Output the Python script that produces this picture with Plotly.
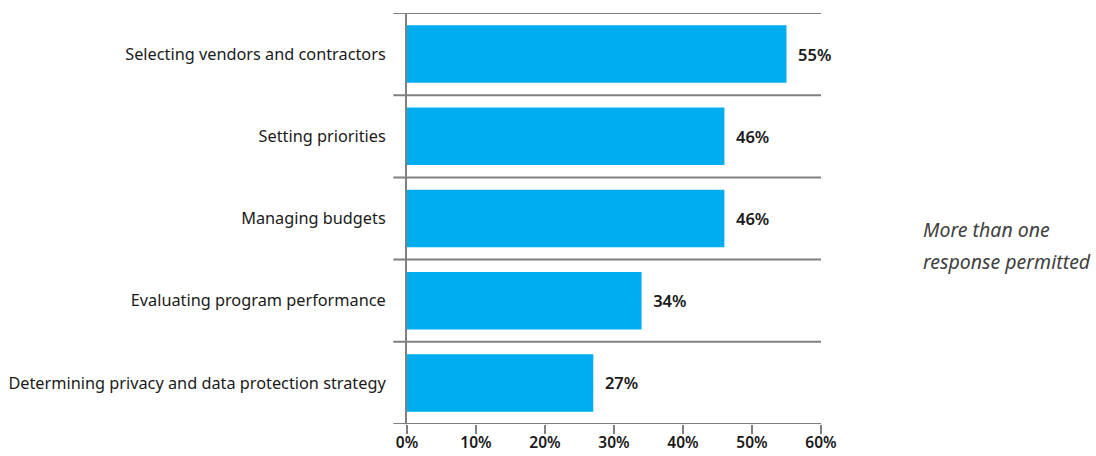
import plotly.graph_objects as go

# Survey responses: share of respondents citing each responsibility
categories = [
    "Selecting vendors and contractors",
    "Setting priorities",
    "Managing budgets",
    "Evaluating program performance",
    "Determining privacy and data protection strategy",
]
values = [55, 46, 46, 34, 27]
tick_vals = [0, 10, 20, 30, 40, 50, 60]
tick_text = ["0%", "10%", "20%", "30%", "40%", "50%", "60%"]
note_lines = ["More than one", "response permitted"]

BAR = "#00adef"
LINE = "#808080"
TEXT = "#1a1a1a"
FONT = "Noto Sans"

fig = go.Figure()
fig.add_trace(go.Bar(
    x=values,
    y=categories,
    orientation="h",
    marker=dict(color=BAR, line=dict(width=0)),
    width=0.7,
    text=[f"{v}%" for v in values],
    texttemplate="  %{text}",
    textposition="outside",
    textfont=dict(family=FONT, size=16.5, color=TEXT, weight=600),
    cliponaxis=False,
    hoverinfo="skip",
))

# Separator lines between categories, extending a little left of the axis
n = len(categories)
for k in range(n + 1):
    fig.add_shape(
        type="line", xref="x domain", yref="y",
        x0=-0.033, x1=1.0, y0=k - 0.5, y1=k - 0.5,
        line=dict(color=LINE, width=2), layer="below",
    )

# Side note, two lines with generous leading
for i, line_text in enumerate(note_lines):
    fig.add_annotation(
        text=line_text, xref="paper", yref="paper",
        x=1.0, y=0.474 - i * 0.079, xanchor="left", yanchor="middle", xshift=100,
        showarrow=False, align="left",
        font=dict(family=FONT, size=19.5, color="#404040", style="italic"),
    )

fig.update_layout(
    width=1096, height=456,
    margin=dict(l=407, r=275, t=13, b=32),
    paper_bgcolor="white", plot_bgcolor="white",
    showlegend=False,
    bargap=0.3,
    font=dict(family=FONT, size=16.3, color=TEXT),
    xaxis=dict(
        range=[0, 60], tickvals=tick_vals, ticktext=tick_text,
        showgrid=False, zeroline=False, automargin=False,
        showline=False, ticks="outside", ticklen=9, tickwidth=2, tickcolor=LINE,
        ticklabelstandoff=-5,
        tickfont=dict(family=FONT, size=15.5, color=TEXT, weight=600),
        fixedrange=True,
    ),
    yaxis=dict(
        categoryorder="array", categoryarray=categories,
        autorange=False, range=[n - 0.5, -0.5],
        showgrid=False, zeroline=False, automargin=False,
        showline=True, linecolor=LINE, linewidth=2,
        ticks="", ticklabelstandoff=16,
        tickfont=dict(family=FONT, size=16.3, color=TEXT),
        fixedrange=True,
    ),
)

fig.write_html("out.html")
